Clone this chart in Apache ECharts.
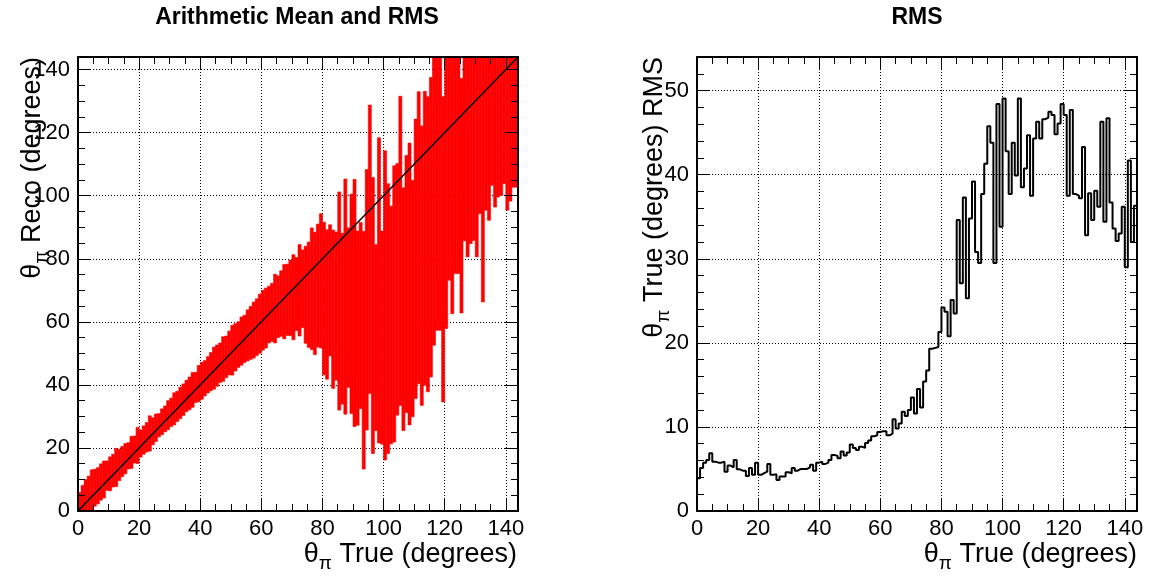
<!DOCTYPE html>
<html>
<head>
<meta charset="utf-8">
<script src="https://cdn.jsdelivr.net/npm/echarts@6/dist/echarts.min.js"></script>
<style>
  html, body { margin: 0; padding: 0; background: #fff; }
  #main { width: 1150px; height: 579px; }
</style>
</head>
<body>
<div id="main"></div>
<script>
// one bin per degree of true angle, 0..144
var binCount = 144;

// mean reconstructed angle per true-angle bin (left pad)
var meanReco = [
  2.0, 3.0, 4.2, 5.0, 6.2, 7.4, 8.0, 9.2, 10.0, 11.2,
  11.8, 12.8, 13.8, 14.6, 15.7, 16.6, 17.5, 18.6, 19.5, 20.8,
  21.4, 22.5, 23.4, 24.6, 25.3, 26.4, 27.2, 28.3, 29.2, 30.4,
  31.3, 32.4, 33.2, 34.3, 35.3, 36.5, 37.3, 38.4, 39.2, 40.4,
  41.3, 42.1, 43.2, 44.2, 45.3, 46.1, 47.0, 48.2, 48.9, 50.1,
  51.0, 51.9, 52.8, 53.9, 54.6, 55.7, 56.5, 57.4, 58.3, 59.4,
  60.5, 61.2, 62.3, 63.0, 64.2, 64.8, 65.8, 66.4, 67.0, 67.6,
  67.8, 68.8, 70.0, 70.5, 68.6, 68.6, 70.5, 69.0, 71.5, 73.0,
  67.4, 65.5, 70.0, 64.0, 65.0, 66.6, 61.0, 68.0, 64.5, 65.7,
  66.0, 58.0, 62.0, 51.0, 67.0, 83.0, 62.0, 55.0, 70.0, 55.0,
  65.2, 61.0, 59.0, 65.7, 70.3, 82.5, 64.0, 72.0, 72.0, 67.4,
  80.0, 86.7, 77.8, 86.5, 84.6, 90.0, 99.7, 102.1, 103.4, 83.0,
  105.0, 110.7, 110.3, 113.0, 112.8, 100.0, 129.0, 113.4, 122.6, 120.4,
  118.7, 130.5, 112.6, 129.8, 138.9, 140.0, 130.0, 131.7, 133.1, 140.0,
  124.4, 140.0, 134.7, 139.0
];

// RMS per bin (right pad, also the half height of the red bars)
var rmsTrue = [
  3.9, 5.1, 5.75, 6.07, 6.87, 5.87, 5.75, 5.75, 5.87, 4.68,
  5.4, 5.2, 6.07, 4.96, 4.8, 4.8, 4.17, 5.1, 4.3, 5.75,
  4.3, 4.5, 4.68, 5.6, 4.3, 4.37, 3.7, 4.1, 4.1, 4.6,
  4.5, 5.1, 4.8, 5.0, 5.0, 5.0, 5.2, 5.5, 4.8, 5.75,
  5.87, 5.6, 5.75, 6.07, 6.67, 6.55, 6.27, 7.07, 6.6, 6.95,
  7.9, 7.5, 7.25, 7.65, 7.5, 8.1, 8.4, 8.9, 9.0, 9.4,
  9.5, 9.5, 9.0, 9.2, 10.9, 9.8, 10.4, 11.8, 11.3, 12.0,
  13.5, 11.6, 14.5, 12.3, 15.4, 16.7, 19.3, 19.4, 19.5, 21.3,
  24.2, 23.7, 20.8, 25.1, 23.5, 34.6, 27.1, 37.3, 25.3, 34.8,
  39.2, 30.8, 29.5, 37.7, 41.3, 45.75, 43.8, 29.5, 48.4, 33.8,
  49.05, 42.8, 37.7, 43.8, 39.9, 49.05, 38.5, 40.75, 44.7, 37.5,
  44.3, 46.3, 44.3, 46.6, 46.8, 47.5, 47.1, 44.8, 46.1, 48.4,
  47.1, 37.5, 47.7, 37.7, 37.5, 37.2, 43.3, 32.8, 37.8, 34.6,
  38.1, 36.2, 46.3, 34.4, 46.7, 36.7, 33.6, 32.1, 33.0, 36.2,
  29.0, 41.7, 32.0, 36.3
];

// the y = x reference line
var diagonal = [[0, 0], [144, 144]];

var FONT = '"Liberation Sans", Arial, Helvetica, sans-serif';

var chart = echarts.init(document.getElementById('main'));

// labels + dotted grid under the data, frame and inside ticks (major/minor) on all sides above it
function axisSet(dim, gridIndex, max, major, minor) {
  var main = dim === 'x' ? 'bottom' : 'left';
  var opp = dim === 'x' ? 'top' : 'right';
  var list = [];
  list.push({
    gridIndex: gridIndex, type: 'value', min: 0, max: max, position: main, interval: major, z: 0,
    axisLine: { show: false, onZero: false },
    axisTick: { show: false },
    axisLabel: {
      show: true, color: '#000', fontSize: 22, fontFamily: FONT, margin: dim === 'x' ? 7 : 8,
      formatter: function (v) { return v % major === 0 ? String(v) : ''; }
    },
    splitLine: { show: true, lineStyle: { color: '#000', width: 1, type: [1, 2] } }
  });
  [main, opp].forEach(function (pos) {
    list.push({
      gridIndex: gridIndex, type: 'value', min: 0, max: max, position: pos, interval: major, z: 10,
      axisLine: { show: true, onZero: false, lineStyle: { color: '#000', width: 2 } },
      axisTick: { show: true, inside: true, length: 13, lineStyle: { color: '#000', width: 1 } },
      axisLabel: { show: false }, splitLine: { show: false }
    });
    list.push({
      gridIndex: gridIndex, type: 'value', min: 0, max: max, position: pos, interval: minor, z: 10,
      axisLine: { show: false, onZero: false },
      axisTick: { show: true, inside: true, length: 7, lineStyle: { color: '#000', width: 1 } },
      axisLabel: { show: false }, splitLine: { show: false }
    });
  });
  return list;
}

var xAxes = axisSet('x', 0, 144, 20, 5).concat(axisSet('x', 1, 144, 20, 5));
var yAxes = axisSet('y', 0, 144, 20, 5).concat(axisSet('y', 1, 54, 10, 2));

var barData = meanReco.map(function (m, i) {
  return [i, i + 1, m - rmsTrue[i], m + rmsTrue[i]];
});

var rmsSteps = rmsTrue.map(function (v, i) { return [i, v]; });
rmsSteps.push([binCount, rmsTrue[binCount - 1]]);

function renderBar(params, api) {
  var p0 = api.coord([api.value(0), api.value(3)]);
  var p1 = api.coord([api.value(1), api.value(2)]);
  var cs = params.coordSys;
  var shape = echarts.graphic.clipRectByRect(
    { x: p0[0], y: p0[1], width: p1[0] - p0[0], height: p1[1] - p0[1] },
    { x: cs.x, y: cs.y, width: cs.width, height: cs.height }
  );
  if (!shape) return null;
  return { type: 'rect', shape: shape, style: { fill: '#ff0000', stroke: '#ff0000', lineWidth: 0.6 } };
}

function axisTitle(x, y, rest, rotate) {
  return {
    type: 'text', x: x, y: y, rotation: rotate ? Math.PI / 2 : 0,
    style: {
      text: '{t|θ}{s|π}{t|' + rest + '}',
      align: 'right', verticalAlign: 'middle', fill: '#000',
      rich: {
        t: { fontSize: 27, fontFamily: FONT, lineHeight: 36, verticalAlign: 'middle', fill: '#000' },
        s: { fontSize: 19, fontFamily: FONT, lineHeight: 19, verticalAlign: 'bottom', fill: '#000' }
      }
    }
  };
}

var option = {
  animation: false,
  backgroundColor: '#fff',
  grid: [
    { left: 78, top: 57, width: 440, height: 454, outerBoundsMode: 'none' },
    { left: 697, top: 57, width: 440, height: 454, outerBoundsMode: 'none' }
  ],
  xAxis: xAxes,
  yAxis: yAxes,
  graphic: [
    { type: 'text', x: 297, y: 18, style: { text: 'Arithmetic Mean and RMS', align: 'center', verticalAlign: 'middle', fontSize: 23, fontWeight: 'bold', fontFamily: FONT, fill: '#000' } },
    { type: 'text', x: 917, y: 18, style: { text: 'RMS', align: 'center', verticalAlign: 'middle', fontSize: 23, fontWeight: 'bold', fontFamily: FONT, fill: '#000' } },
    axisTitle(517, 555, ' True (degrees)', false),
    axisTitle(1137, 555, ' True (degrees)', false),
    axisTitle(33, 57, ' Reco (degrees)', true),
    axisTitle(655, 57, ' True (degrees) RMS', true)
  ],
  series: [
    {
      name: 'mean ± rms', type: 'custom', xAxisIndex: 0, yAxisIndex: 0,
      renderItem: renderBar, encode: { x: [0, 1], y: [2, 3] }, data: barData, z: 2
    },
    {
      name: 'y = x', type: 'line', xAxisIndex: 0, yAxisIndex: 0, data: diagonal,
      symbol: 'none', lineStyle: { color: '#000', width: 1.5 }, z: 3
    },
    {
      name: 'rms', type: 'line', xAxisIndex: 5, yAxisIndex: 5, data: rmsSteps, step: 'end',
      symbol: 'none', lineStyle: { color: '#000', width: 2 }, z: 3
    }
  ]
};

chart.setOption(option);
</script>
</body>
</html>
